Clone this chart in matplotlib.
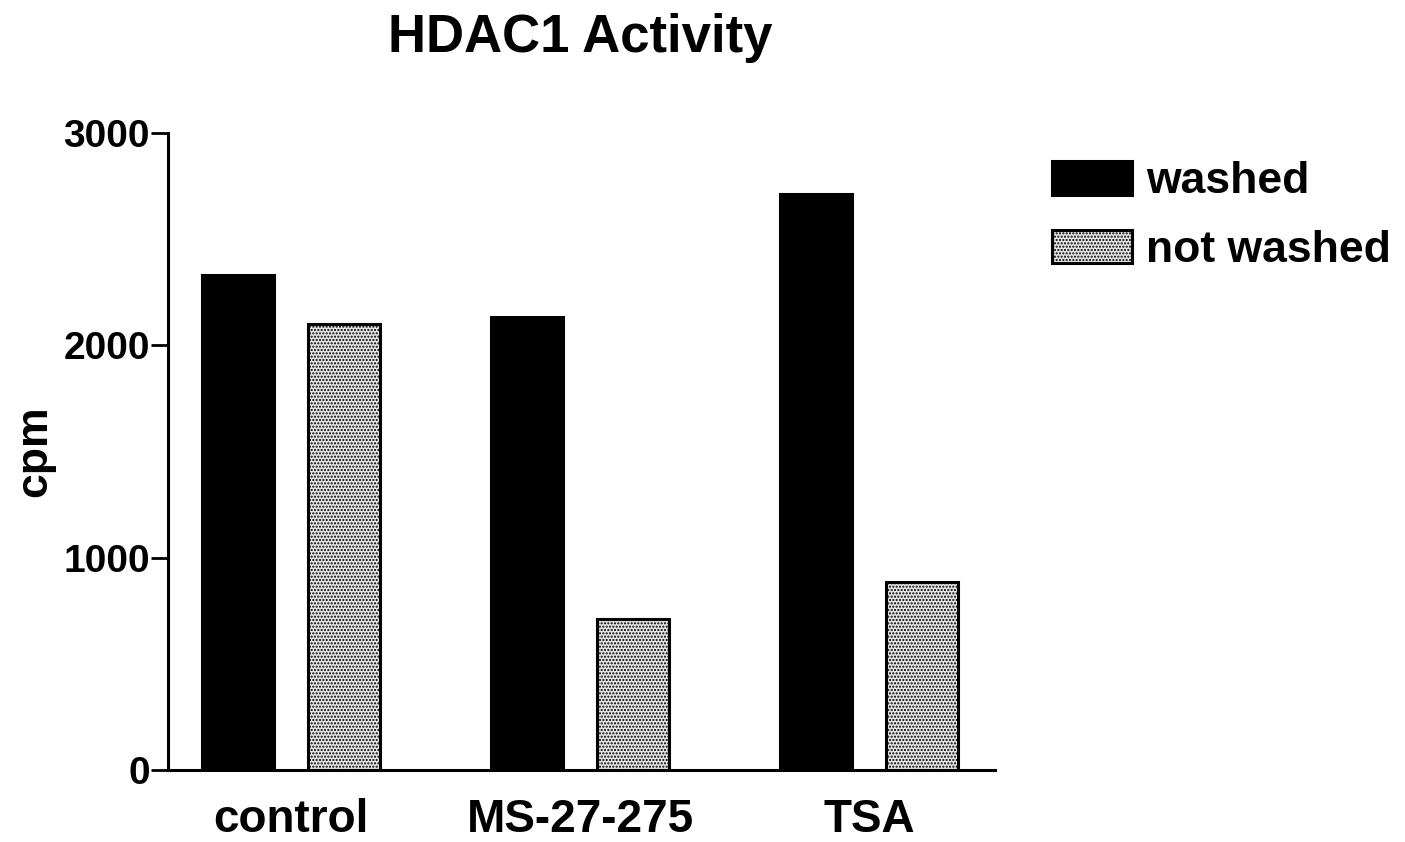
import numpy as np
import matplotlib.pyplot as plt
from matplotlib.patches import Patch

plt.rcParams['font.family'] = ['Liberation Sans', 'DejaVu Sans']
plt.rcParams['font.weight'] = 'bold'
plt.rcParams['hatch.color'] = '#7a7a7a'
plt.rcParams['hatch.linewidth'] = 1.0

# data
groups = ['control', 'MS-27-275', 'TSA']
washed = [2330, 2135, 2715]
not_washed = [2100, 710, 885]
yticks = [0, 1000, 2000, 3000]

fig = plt.figure(figsize=(14.05, 8.42), dpi=100)
ax = fig.add_axes([0.1196, 0.0855, 0.5886, 0.7565])

x = np.arange(len(groups))
w = 0.25
off = 0.183
ax.bar(x - off, washed, w, color='black', edgecolor='black', linewidth=2.2, label='washed')
ax.bar(x + off, not_washed, w, color='#e4e4e4', edgecolor='black', linewidth=2.2,
       hatch='.....', label='not washed')

ax.set_xlim(-0.426, 2.436)
ax.set_ylim(0, 3000)
ax.set_yticks(yticks)
ax.set_yticklabels([str(t) for t in yticks], fontsize=28, fontweight='bold')
ax.set_xticks(x)
ax.set_xticklabels(groups, fontsize=33, fontweight='bold')
ax.tick_params(axis='x', length=0, pad=20)
ax.tick_params(axis='y', length=12, width=2, pad=1)
for s in ['top', 'right']:
    ax.spines[s].set_visible(False)
for s in ['left', 'bottom']:
    ax.spines[s].set_linewidth(2.2)

ax.set_ylabel('cpm', fontsize=32, fontweight='bold', labelpad=6)
fig.text(0.413, 0.955, 'HDAC1 Activity', fontsize=38, fontweight='bold',
         ha='center', va='center')

handles = [Patch(facecolor='black', edgecolor='black', linewidth=2.2),
           Patch(facecolor='#e4e4e4', edgecolor='black', linewidth=2.2, hatch='.....')]
fig.legend(handles, ['washed', 'not washed'], loc='upper left',
           bbox_to_anchor=(0.7485, 0.809), frameon=False, fontsize=32,
           handlelength=1.8, handleheight=0.79, handletextpad=0.32,
           labelspacing=0.62, borderaxespad=0, borderpad=0)

fig.savefig('out.png', dpi=100)
